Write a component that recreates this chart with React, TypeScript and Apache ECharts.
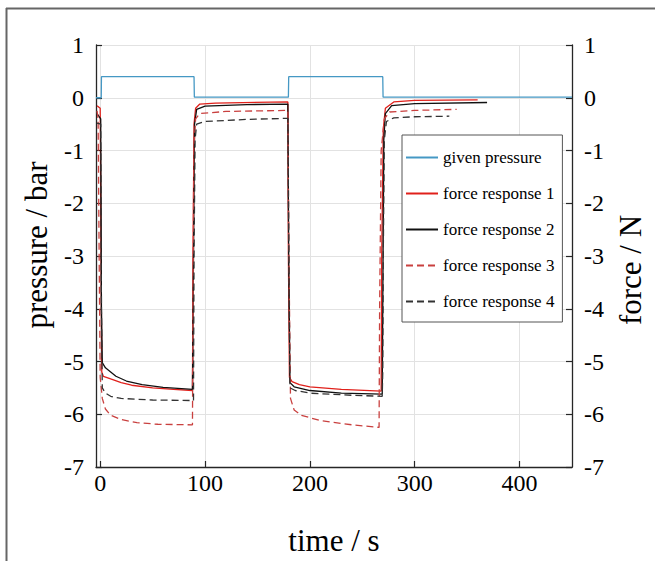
import React, { useEffect, useRef } from "react";
import * as echarts from "echarts";

const seriesNames = [
  "given pressure",
  "force response 1",
  "force response 2",
  "force response 3",
  "force response 4",
];

const givenPressure: [number, number][] = [
  [-4, 0], [1, 0], [1.2, 0.4], [89.5, 0.4], [89.8, 0.01], [179.5, 0.01],
  [179.8, 0.4], [269.5, 0.4], [269.8, 0.01], [450, 0.01],
];

const forceResponse1: [number, number][] = [
  [-3, -0.15], [0, -0.2], [0.8, -3], [1.5, -5.2], [3, -5.28], [10, -5.33],
  [20, -5.4], [30, -5.45], [50, -5.5], [70, -5.53], [88, -5.55], [88.5, -3],
  [89.5, -0.5], [91, -0.2], [95, -0.12], [110, -0.1], [179, -0.08],
  [179.5, -3], [180.5, -5.3], [183, -5.38], [190, -5.44], [200, -5.48],
  [230, -5.53], [268, -5.56], [268.5, -3], [270, -0.6], [272, -0.2],
  [280, -0.08], [300, -0.05], [360, -0.04],
];

const forceResponse2: [number, number][] = [
  [-3, -0.3], [0.5, -0.4], [1.2, -4], [2, -5.02], [5, -5.12], [15, -5.28],
  [25, -5.37], [40, -5.44], [60, -5.49], [88, -5.53], [89, -3], [90, -0.5],
  [92, -0.22], [100, -0.16], [140, -0.13], [179, -0.12], [179.8, -3],
  [181, -5.4], [185, -5.48], [200, -5.55], [230, -5.6], [269, -5.62],
  [269.5, -4], [270.5, -0.8], [272, -0.3], [278, -0.15], [300, -0.11],
  [369, -0.09],
];

const forceResponse3: [number, number][] = [
  [-3, -0.25], [-2, -0.4], [-1, -3], [0, -5.3], [2, -5.7], [5, -5.9],
  [10, -6.02], [20, -6.1], [35, -6.16], [55, -6.19], [88, -6.2], [88.5, -4],
  [89.3, -1], [91, -0.4], [95, -0.3], [120, -0.26], [179, -0.24], [180, -3],
  [181.5, -5.7], [185, -5.92], [192, -6.02], [210, -6.12], [240, -6.2],
  [266, -6.25], [266.5, -4], [268, -1], [271, -0.4], [276, -0.27],
  [300, -0.24], [340, -0.22],
];

const forceResponse4: [number, number][] = [
  [-3, -0.48], [0.5, -0.5], [1.2, -4], [2, -5.5], [5, -5.6], [10, -5.66],
  [20, -5.7], [50, -5.73], [89, -5.74], [89.5, -3], [90.5, -0.8], [92, -0.5],
  [100, -0.45], [140, -0.41], [179, -0.39], [180, -3], [181, -5.5],
  [186, -5.55], [200, -5.6], [240, -5.64], [269, -5.66], [269.5, -5.2],
  [270, -3], [271, -0.8], [273, -0.45], [280, -0.38], [300, -0.36],
  [333, -0.35],
];

const xRange = { min: -4, max: 450 };
const yRange = { min: -7, max: 1, interval: 1 };

const serif = "Liberation Serif";

export default function App() {
  const ref = useRef<HTMLDivElement>(null);
  useEffect(() => {
    if (!ref.current) return;
    const chart = echarts.init(ref.current, undefined, { renderer: "svg" });
    const axisLine = { show: true, onZero: false, lineStyle: { color: "#262626", width: 1.3 } };
    const axisTick = { show: true, inside: true, length: 6, lineStyle: { color: "#262626", width: 1.2 } };
    const rich = { n: { fontFamily: serif, fontSize: 24, color: "#000" } };
    const fmt = (v: number) => `{n|${v}}`;
    const yLabel = { color: "#000", fontFamily: serif, fontSize: 24, margin: 12, formatter: fmt, rich };
    const colors = ["#4598c4", "#e0201b", "#111111", "#c9403f", "#333333"];
    const datas = [givenPressure, forceResponse1, forceResponse2, forceResponse3, forceResponse4];
    const types: any[] = ["solid", "solid", "solid", [7, 4], [7, 4]];
    chart.setOption({
      animation: false,
      backgroundColor: "#fff",
      textStyle: { fontFamily: serif },
      grid: { left: 96, right: 83, top: 45, bottom: 89 },
      graphic: [
        { type: "line", shape: { x1: 6, y1: 8.5, x2: 655, y2: 8.5 }, style: { stroke: "#666", lineWidth: 2 } },
        { type: "line", shape: { x1: 6.5, y1: 8, x2: 6.5, y2: 561 }, style: { stroke: "#666", lineWidth: 2 } },
      ],
      legend: {
        orient: "vertical",
        left: 402,
        top: 135,
        data: seriesNames,
        itemWidth: 32,
        itemHeight: 14,
        itemGap: 19,
        padding: [14, 8, 12, 3],
        borderColor: "#555",
        borderWidth: 1,
        backgroundColor: "#fff",
        itemStyle: { opacity: 0 },
        textStyle: { color: "#000", fontFamily: serif, fontSize: 17, lineHeight: 17 },
      },
      xAxis: {
        type: "value",
        min: xRange.min,
        max: xRange.max,
        splitNumber: 5,
        name: "time / s",
        nameLocation: "middle",
        nameGap: 58,
        nameTextStyle: { color: "#000", fontFamily: serif, fontSize: 31 },
        axisLine,
        axisTick,
        axisLabel: { color: "#000", fontFamily: serif, fontSize: 24, margin: 4, showMinLabel: false, showMaxLabel: false, formatter: fmt, rich },
        splitLine: { show: true, lineStyle: { color: "#e2e2e2", width: 1 } },
      },
      yAxis: [
        {
          type: "value",
          position: "left",
          ...yRange,
          name: "pressure / bar",
          nameLocation: "middle",
          nameGap: 44,
          nameTextStyle: { color: "#000", fontFamily: serif, fontSize: 31, padding: [0, 0, 0, 22] },
          axisLine,
          axisTick,
          axisLabel: yLabel,
          splitLine: { show: true, lineStyle: { color: "#e2e2e2", width: 1 } },
        },
        {
          type: "value",
          position: "right",
          ...yRange,
          name: "force / N",
          nameLocation: "middle",
          nameGap: 42,
          nameRotate: 90,
          nameTextStyle: { color: "#000", fontFamily: serif, fontSize: 31, padding: [0, 28, 0, 0] },
          axisLine,
          axisTick,
          axisLabel: yLabel,
          splitLine: { show: false },
        },
      ],
      series: seriesNames.map((name, i) => ({
        name,
        type: "line",
        yAxisIndex: i === 0 ? 0 : 1,
        data: datas[i],
        symbol: "none",
        showSymbol: false,
        color: colors[i],
        lineStyle: { color: colors[i], width: 1.3, type: types[i] },
        z: i === 0 ? 3 : 2,
      })),
    });
    return () => chart.dispose();
  }, []);
  return <div ref={ref} style={{ position: "fixed", left: 0, top: 0, width: 655, height: 561 }} />;
}
